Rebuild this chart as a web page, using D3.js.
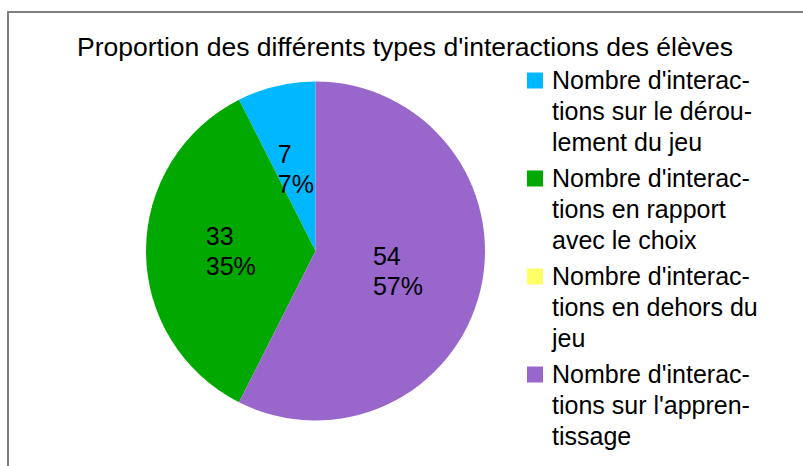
<!DOCTYPE html>
<html>
<head>
<meta charset="utf-8">
<script src="https://cdn.jsdelivr.net/npm/d3@7"></script>
<style>
  body { margin: 0; background: #fff; }
  text { font-family: "Liberation Sans", Arial, sans-serif; fill: #000; }
</style>
</head>
<body>
<div id="my_dataviz"></div>
<script>
var width = 803
var height = 466

var chartTitle = "Proportion des différents types d'interactions des élèves"

// legend labels, already wrapped the way the original shows them
var categories = [
  ["Nombre d'interac-", "tions sur le dérou-", "lement du jeu"],
  ["Nombre d'interac-", "tions en rapport", "avec le choix"],
  ["Nombre d'interac-", "tions en dehors du", "jeu"],
  ["Nombre d'interac-", "tions sur l'appren-", "tissage"]
]
var values = [7, 33, 0, 54]
var colors = ["#00b8ff", "#00a800", "#ffff66", "#9966cc"]

var cx = 315.5, cy = 251, radius = 169.5

var svg = d3.select("#my_dataviz")
  .append("svg")
  .attr("width", width)
  .attr("height", height)

// frame
svg.append("rect")
  .attr("x", 8)
  .attr("y", 12)
  .attr("width", 820)
  .attr("height", 480)
  .attr("fill", "none")
  .attr("stroke", "#7f7f7f")
  .attr("stroke-width", 2)

svg.append("text")
  .attr("x", 77)
  .attr("y", 56)
  .attr("textLength", 656)
  .attr("lengthAdjust", "spacingAndGlyphs")
  .style("font-size", "26.5px")
  .text(chartTitle)

var data = values.map(function (v, i) { return { value: v, color: colors[i], index: i } })
var total = d3.sum(values)

// counter-clockwise from 12 o'clock, like the original
var pie = d3.pie()
  .sort(null)
  .startAngle(0)
  .endAngle(-2 * Math.PI)
  .value(function (d) { return d.value })
var arcs = pie(data)

var pieArc = d3.arc()
  .innerRadius(0)
  .outerRadius(radius)

var pieG = svg.append("g")
  .attr("transform", "translate(" + cx + "," + cy + ")")

pieG.selectAll("path")
  .data(arcs.filter(function (d) { return d.data.value > 0 }))
  .enter()
  .append("path")
  .attr("d", pieArc)
  .attr("fill", function (d) { return d.data.color })

var labels = pieG.selectAll("text.lbl")
  .data(arcs.filter(function (d) { return d.data.value > 0 }))
  .enter()
  .append("text")
  .attr("class", "lbl")
  .style("font-size", "25px")

labels.each(function (d) {
  var c = pieArc.centroid(d)
  var t = d3.select(this)
  var pct = Math.round(d.data.value / total * 100) + "%"
  t.append("tspan").attr("y", c[1] - 6).text(d.data.value)
  t.append("tspan").attr("y", c[1] + 24).text(pct)
  var w = 0
  t.selectAll("tspan").each(function () { w = Math.max(w, this.getComputedTextLength()) })
  t.selectAll("tspan").attr("x", c[0] - w / 2)
})

// legend
var legend = svg.append("g")
  .selectAll("g")
  .data(categories)
  .enter()
  .append("g")
  .attr("transform", function (d, i) { return "translate(527," + (88.5 + i * 98) + ")" })

legend.append("rect")
  .attr("x", 0)
  .attr("y", -16)
  .attr("width", 16)
  .attr("height", 16)
  .attr("fill", function (d, i) { return colors[i] })

legend.append("text")
  .style("font-size", "25px")
  .selectAll("tspan")
  .data(function (d) { return d })
  .enter()
  .append("tspan")
  .attr("x", 25)
  .attr("y", function (d, i) { return i * 31.3 })
  .text(function (d) { return d })
</script>
</body>
</html>
